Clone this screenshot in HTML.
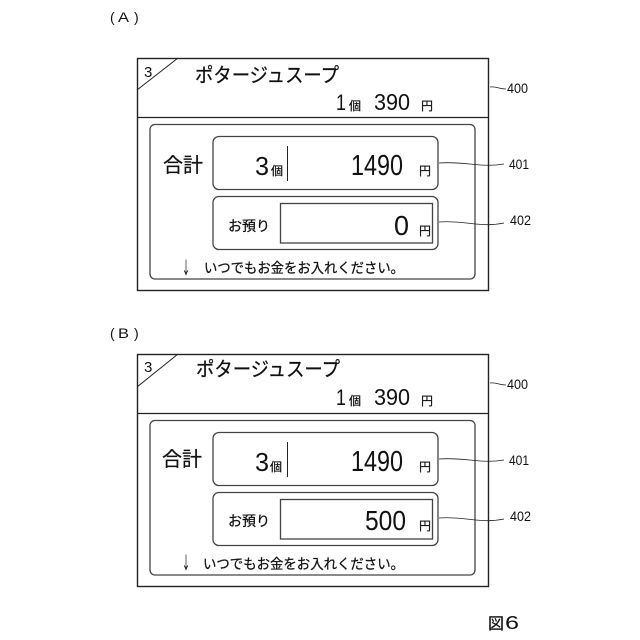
<!DOCTYPE html>
<html>
<head>
<meta charset="utf-8">
<style>
html,body{margin:0;padding:0;background:#fff;width:640px;height:640px;overflow:hidden}
svg{display:block}
text{font-family:"Liberation Sans","Noto Sans CJK JP",sans-serif;fill:#111}
.jp{font-family:"Noto Sans CJK JP","IPAGothic",sans-serif;stroke:#111;stroke-width:.25}
</style>
</head>
<body>
<svg width="640" height="640" viewBox="0 0 640 640" xmlns="http://www.w3.org/2000/svg">
<text x="110" y="22" font-size="14">(</text>
<text x="118" y="22" font-size="14" textLength="11" lengthAdjust="spacingAndGlyphs">A</text>
<text x="134" y="22" font-size="14">)</text>
<text x="110" y="338" font-size="14">(</text>
<text x="118" y="338" font-size="14" textLength="11" lengthAdjust="spacingAndGlyphs">B</text>
<text x="134" y="338" font-size="14">)</text>

<g fill="none" stroke="#222">
<rect x="137.500" y="58.500" width="351" height="232" stroke-width="1.400"/>
<path d="M137 117.500H488" stroke-width="1.300"/>
<path d="M137 90L178 58" stroke-width="1"/>
<rect x="150" y="124.500" width="325" height="154.500" rx="5" stroke="#444" stroke-width="1.300"/>
<rect x="213" y="136.500" width="225" height="53" rx="6" stroke="#444" stroke-width="1.300"/>
<rect x="213" y="196.500" width="225" height="53" rx="6" stroke="#444" stroke-width="1.300"/>
<rect x="280.500" y="203.500" width="152" height="39.500" stroke="#444" stroke-width="1.300"/>
<path d="M287.500 146V181" stroke-width="1"/>
<path d="M490 87C497 86 498 89 506 89" stroke-width=".8"/>
<path d="M439 163C465 161 480 168 504 164" stroke-width=".8"/>
<path d="M439 222C465 220 480 228 504 223" stroke-width=".8"/>
</g>
<text x="144" y="77" font-size="15">3</text>
<text x="195" y="82" font-size="20" class="jp" textLength="144" lengthAdjust="spacingAndGlyphs">ポタージュスープ</text>
<text x="336" y="110" font-size="22" textLength="10" lengthAdjust="spacingAndGlyphs">1</text>
<text x="349" y="110" font-size="12" class="jp">個</text>
<text x="374" y="110" font-size="23" textLength="36" lengthAdjust="spacingAndGlyphs">390</text>
<text x="421" y="110" font-size="12" class="jp">円</text>
<text x="163" y="172" font-size="20" class="jp" textLength="40" lengthAdjust="spacingAndGlyphs">合計</text>
<text x="255" y="175" font-size="26" textLength="14" lengthAdjust="spacingAndGlyphs">3</text>
<text x="271" y="175" font-size="12" class="jp">個</text>
<text x="351" y="175" font-size="29" textLength="52" lengthAdjust="spacingAndGlyphs">1490</text>
<text x="419" y="175" font-size="12" class="jp">円</text>
<text x="228" y="231" font-size="14" class="jp" textLength="42" lengthAdjust="spacingAndGlyphs">お預り</text>
<text x="394" y="235" font-size="28" textLength="15" lengthAdjust="spacingAndGlyphs">0</text>
<text x="419" y="235" font-size="12" class="jp">円</text>
<text x="182" y="274" font-size="17" class="jp" textLength="8" lengthAdjust="spacingAndGlyphs">↓</text>
<text x="204" y="273" font-size="14" class="jp" textLength="200" lengthAdjust="spacingAndGlyphs">いつでもお金をお入れください。</text>
<text x="507" y="93" font-size="14" textLength="21" lengthAdjust="spacingAndGlyphs">400</text>
<text x="509" y="169" font-size="14" textLength="20" lengthAdjust="spacingAndGlyphs">401</text>
<text x="510" y="225" font-size="14" textLength="21" lengthAdjust="spacingAndGlyphs">402</text>

<g fill="none" stroke="#222">
<rect x="137.500" y="354.500" width="351" height="232" stroke-width="1.400"/>
<path d="M137 413.500H488" stroke-width="1.300"/>
<path d="M137 387L178 354" stroke-width="1"/>
<rect x="150" y="420.500" width="325" height="154.500" rx="5" stroke="#444" stroke-width="1.300"/>
<rect x="213" y="432.500" width="225" height="53" rx="6" stroke="#444" stroke-width="1.300"/>
<rect x="213" y="492.500" width="225" height="53" rx="6" stroke="#444" stroke-width="1.300"/>
<rect x="280.500" y="499.500" width="152" height="39.500" stroke="#444" stroke-width="1.300"/>
<path d="M287.500 442V477" stroke-width="1"/>
<path d="M490 383C497 382 498 385 506 385" stroke-width=".8"/>
<path d="M439 459C465 457 480 464 504 460" stroke-width=".8"/>
<path d="M439 518C465 516 480 524 504 519" stroke-width=".8"/>
</g>
<text x="144" y="372" font-size="15">3</text>
<text x="196" y="376" font-size="20" class="jp" textLength="144" lengthAdjust="spacingAndGlyphs">ポタージュスープ</text>
<text x="336" y="405" font-size="22" textLength="10" lengthAdjust="spacingAndGlyphs">1</text>
<text x="349" y="405" font-size="12" class="jp">個</text>
<text x="374" y="405" font-size="23" textLength="36" lengthAdjust="spacingAndGlyphs">390</text>
<text x="421" y="405" font-size="12" class="jp">円</text>
<text x="162" y="466" font-size="20" class="jp" textLength="40" lengthAdjust="spacingAndGlyphs">合計</text>
<text x="255" y="471" font-size="26" textLength="14" lengthAdjust="spacingAndGlyphs">3</text>
<text x="270" y="471" font-size="12" class="jp">個</text>
<text x="351" y="471" font-size="29" textLength="52" lengthAdjust="spacingAndGlyphs">1490</text>
<text x="419" y="471" font-size="12" class="jp">円</text>
<text x="228" y="526" font-size="14" class="jp" textLength="42" lengthAdjust="spacingAndGlyphs">お預り</text>
<text x="365" y="530" font-size="28" textLength="41" lengthAdjust="spacingAndGlyphs">500</text>
<text x="419" y="530" font-size="12" class="jp">円</text>
<text x="182" y="569" font-size="17" class="jp" textLength="8" lengthAdjust="spacingAndGlyphs">↓</text>
<text x="203" y="569" font-size="14" class="jp" textLength="201" lengthAdjust="spacingAndGlyphs">いつでもお金をお入れください。</text>
<text x="507" y="389" font-size="14" textLength="21" lengthAdjust="spacingAndGlyphs">400</text>
<text x="509" y="465" font-size="14" textLength="20" lengthAdjust="spacingAndGlyphs">401</text>
<text x="510" y="521" font-size="14" textLength="21" lengthAdjust="spacingAndGlyphs">402</text>

<text x="488" y="629" font-size="16" class="jp">図</text>
<text x="505" y="629" font-size="18" textLength="14" lengthAdjust="spacingAndGlyphs">6</text>
</svg>
</body>
</html>
